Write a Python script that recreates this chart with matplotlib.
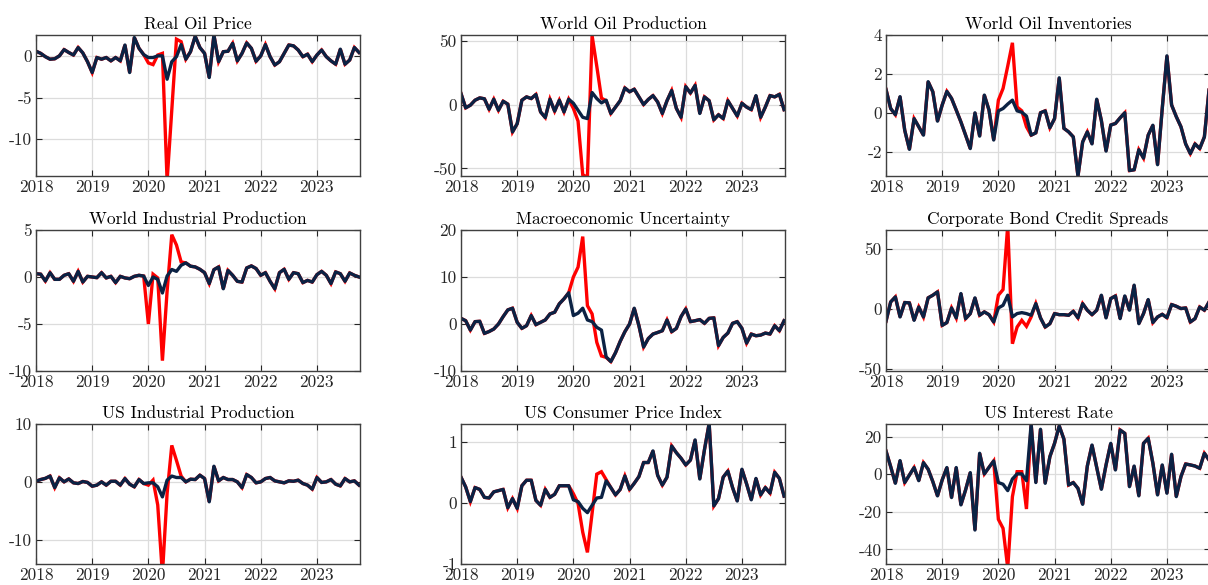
import matplotlib
matplotlib.use("Agg")
import matplotlib.pyplot as plt
import numpy as np

plt.rcParams['font.family'] = 'cmr10'
plt.rcParams['axes.unicode_minus'] = False
plt.rcParams['font.size'] = 12.5

# monthly, 2018-01 .. 2023-10
n_months = 70
start_year = 2018

titles = ["Real Oil Price", "World Oil Production", "World Oil Inventories",
          "World Industrial Production", "Macroeconomic Uncertainty", "Corporate Bond Credit Spreads",
          "US Industrial Production", "US Consumer Price Index", "US Interest Rate"]

# adjusted series (dark line)
oil_price = [0.56, 0.3, -0.1, -0.4, -0.35, 0, 0.75, 0.4, 0.1, 1.0, 0.35, -0.7,
             -2.0, -0.2, -0.4, -0.2, -0.6, -0.2, -0.6, 1.3, -2.0, 2.2, 0.9, 0.15,
             -0.2, -0.2, 0, 0, -2.8, -0.7, -0.1, 1.35, -0.4, 0.5, 2.35, 1.0,
             0.3, -2.6, 2.5, -0.7, 0.5, 0.55, 1.5, -0.6, 0.3, 1.55, 0.9, -0.65,
             0, 1.35, -0.1, -1.1, -0.7, 0.3, 1.3, 1.2, 0.7, -0.1, 0.2, -0.7,
             0.1, 0.7, -0.1, -0.6, -1.0, 0.8, -1.0, -0.5, 1.0, 0.4]
oil_prod = [8.6, -2.6, -0.5, 3.4, 5.2, 4.5, -3.7, 4.2, -4.5, 2.6, 0.3, -21.5,
            -15, 3.4, 6.0, 4.7, 7.9, -5.8, -10.2, 4.2, -5.2, 3.4, -5.8, 4.2,
            1, -4.5, -10, -11, 9.4, 4.7, 1.3, 3.4, -7, -2, 3, 13,
            10, 12, 6, 0, 4, 7, 2, -7, 3, 11, -3, -10,
            14, 9, 15, -7, 6, 3, -12, -8, -11, 3, -3, -9,
            1, -2, -4, 7, -10, -2, 7, 6, 8, -4]
oil_inv = [1.2, 0.22, -0.1, 0.83, -0.9, -1.88, -0.3, -0.72, -1.15, 1.6, 1.08, -0.43,
           0.4, 1.1, 0.74, 0.14, -0.47, -1.15, -1.84, 0, -1.2, 0.91, 0.14, -1.4,
           0.1, 0.22, 0.45, 0.65, 0.1, 0.03, -0.17, -1.15, -1.03, 0.0, 0.1, -0.77,
           -0.3, 1.8, -0.8, -0.98, -1.24, -3.26, -1.5, -0.98, -1.6, 0.7, -0.4, -1.97,
           -0.63, -0.55, -0.26, 0, -2.97, -2.93, -1.9, -2.33, -1.15, -0.64, -2.67, 0.22,
           2.93, 0.4, -0.2, -0.72, -1.6, -2.1, -1.6, -1.84, -1.24, 1.2]
world_ip = [0.35, 0.3, -0.43, 0.46, -0.25, -0.25, 0.18, 0.35, -0.46, 0.6, -0.54, 0.07,
            0, -0.07, 0.46, -0.1, 0.07, -0.6, 0.07, -0.1, -0.18, 0.07, 0.18, 0.1,
            -0.9, 0, -0.25, -1.7, 0.1, 0.8, 0.6, 1.25, 1.5, 1.15, 1.07, 0.82,
            0.46, -0.7, 0.78, 1.07, -1.25, 0.7, 0.18, -0.46, -0.54, 0.96, 1.18, 0.9,
            0.18, 0.46, -0.46, -1.25, 0.46, 0.82, -0.25, 0.46, 0.35, -0.6, -0.36, -0.54,
            0.25, 0.6, 0.18, -0.7, 0.54, 0.35, -0.46, 0.43, 0.18, 0]
uncert = [1.2, 0.7, -1.3, 0.5, 0.57, -2.0, -1.6, -1.07, 0, 1.57, 3.0, 3.36,
          0.36, -0.93, -0.36, 1.8, -0.14, 0.36, 0.86, 2.14, 2.5, 4.3, 5.36, 6.64,
          1.8, 2.3, 3.36, 0.86, 0.5, -0.7, -1.3, -7.0, -8.0, -6.1, -3.7, -1.64,
          0, 3.36, -0.36, -4.9, -3.1, -2.14, -1.8, -1.43, 0.86, -1.64, -0.93, 1.57,
          3.2, 0.5, 0.7, 0.93, 0.14, 1.2, 1.3, -4.6, -2.86, -1.93, 0.14, 0.5,
          -0.93, -4.07, -2.14, -2.5, -2.36, -1.93, -2.14, -0.36, -1.43, 0.7]
spreads = [-10, 6.1, 10.3, -6.4, 5.6, 5.3, -9.2, 1.9, -6.4, 9.5, 11.7, 14.5,
           -13.4, -11.1, 1.1, -7.2, 13.1, -7.8, -3.6, 9.5, -5.0, -2.2, -4.5, -10.6,
           1.1, 3.3, 11.7, -6.4, -3.6, -2.8, -3.6, -5.0, 4.7, -7.2, -14.8, -12,
           -3.6, -4.5, -4.5, -5.0, -1.7, -7.2, 4.7, -0.8, -4.5, -0.8, 11.7, -7.2,
           8.9, 11.1, -7.8, 11.1, -0.8, 20.1, -12, -3.6, 8.1, -11.1, -6.4, -4.2,
           -7.0, 3.9, 2.5, 0.6, 1.1, -10.6, -7.8, 1.9, -0.8, 6.1]
us_ip = [0.1, 0.4, 0.6, 1.0, -1.0, 0.7, 0, 0.5, -0.17, -0.29, 0.06, -0.1,
         -0.75, -0.57, 0, -0.57, 0.1, 0.1, -0.57, 0.57, -0.4, -0.86, 0.4, -0.29,
         -0.17, -0.17, -0.86, -2.6, 0.29, 1.0, 0.75, 0.75, 0, 0.46, 0.4, 1.15,
         0.57, -3.45, 2.7, 0.17, 0.75, 0.4, 0.4, 0, -1.0, 1.26, 0.75, -0.17,
         0, 0.57, 0.75, 0.17, 0, -0.17, 0.17, 0.1, 0.29, -0.29, -0.57, -1.26,
         0.75, -0.1, 0, 0.4, -0.4, -0.7, 0.57, 0, 0.17, -0.57]
us_cpi = [0.42, 0.26, 0.02, 0.25, 0.22, 0.09, 0.08, 0.18, 0.2, 0.22, -0.08, 0.07,
          -0.09, 0.28, 0.37, 0.37, 0.04, -0.04, 0.22, 0.09, 0.14, 0.28, 0.28, 0.28,
          0.05, 0.02, -0.09, -0.16, -0.04, 0.08, 0.09, 0.36, 0.25, 0.13, 0.22, 0.44,
          0.22, 0.32, 0.43, 0.66, 0.66, 0.85, 0.45, 0.29, 0.42, 0.93, 0.82, 0.73,
          0.62, 0.7, 1.03, 0.39, 0.87, 1.3, -0.05, 0.07, 0.42, 0.52, 0.25, 0.03,
          0.55, 0.31, 0.05, 0.4, 0.13, 0.25, 0.16, 0.5, 0.4, 0.11]
us_rate = [12.4, 4.1, -4.8, 7.3, -4.4, -0.4, 3.6, -3.4, 6.2, 2.7, -3.9, -11.5,
           -3.0, 3.6, -12.4, 3.6, -16.3, -8.3, 0.9, -29.7, 11.2, 0.2, 3.7, 7.1,
           -4.4, -5.3, -8.7, -2.5, 0.2, 0.2, -3.4, 26.8, -4.4, 24, -4.8, 9.4,
           16.5, 25.8, 18.7, -5.7, -4.4, -7.5, -16, 4.4, 15.6, 3.7, -8, 5,
           16.5, 2.3, 23.6, 21.8, -6.6, 4.4, -11.5, 16.5, 19.2, 5.9, -11, 5,
           -10.1, 10.7, -11.9, -1.2, 5.5, 5, 4.4, 3.2, 11.2, 7.6]

# original series (red) differ only Jan-Aug 2020
covid_start = 24
oil_price_raw = [-0.85, -1.05, 0.1, 0.3, -15, -6.5, 2.0, 1.7]
oil_prod_raw = [-3, -13, -55, -57, 54, 30, 5, 3]
oil_inv_raw = [0.65, 1.25, 2.4, 3.6, 0.3, 0.1, -0.72, -1.15]
world_ip_raw = [-5.0, 0.3, -0.1, -8.9, -1.5, 4.5, 3.4, 1.6]
uncert_raw = [10, 12.1, 18.6, 3.9, 2.14, -3.9, -6.8, -7.1]
spreads_raw = [11.7, 16.4, 70, -28.7, -14.8, -9.2, -14.2, -6.4]
us_ip_raw = [-0.57, 0.3, -4.0, -16, -2, 6.3, 3.7, 1.0]
us_cpi_raw = [0.15, -0.01, -0.48, -0.81, -0.17, 0.47, 0.51, 0.38]
us_rate_raw = [-24, -28.8, -50, -11.9, 1.4, 1.4, -18.5, 26.8]

adjusted = [oil_price, oil_prod, oil_inv, world_ip, uncert, spreads, us_ip, us_cpi, us_rate]
raw_2020 = [oil_price_raw, oil_prod_raw, oil_inv_raw, world_ip_raw, uncert_raw,
            spreads_raw, us_ip_raw, us_cpi_raw, us_rate_raw]

ylims = [(-14.4, 2.5), (-56, 54.5), (-3.25, 4), (-10, 5), (-10, 20),
         (-51.4, 66), (-14.2, 10), (-1, 1.29), (-47.8, 26.8)]
yticks = [[-10, -5, 0], [-50, 0, 50], [-2, 0, 2, 4], [-10, -5, 0, 5], [-10, 0, 10, 20],
          [-50, 0, 50], [-10, 0, 10], [-1, 0, 1], [-40, -20, 0, 20]]

t = start_year + np.arange(n_months) / 12.0

fig = plt.figure(figsize=(12.08, 5.85), dpi=100)
W, H = 1208, 585
lefts = [36, 461, 886]
tops = [35, 230, 424]
bottoms = [176, 371, 564]
navy = '#0b2244'

for k in range(9):
    r, c = divmod(k, 3)
    ax = fig.add_axes([lefts[c] / W, 1 - bottoms[r] / H, 324 / W, (bottoms[r] - tops[r]) / H])
    adj = np.array(adjusted[k], dtype=float)
    raw = adj.copy()
    raw[covid_start:covid_start + len(raw_2020[k])] = raw_2020[k]
    ax.plot(t, raw, color='red', lw=2.4, solid_joinstyle='miter')
    ax.plot(t, adj, color=navy, lw=2.4)
    ax.set_xlim(2018, 2023 + 9.2 / 12)
    ax.set_ylim(*ylims[k])
    ax.set_xticks(range(2018, 2024))
    ax.set_yticks(yticks[k])
    ax.grid(True, color='#dcdcdc', lw=0.9)
    ax.set_axisbelow(True)
    ax.tick_params(direction='in', length=4, top=True, right=True, colors='#262626',
                   labelsize=12.5, pad=3)
    for s in ax.spines.values():
        s.set_color('#404040')
        s.set_linewidth(1.0)
    ax.set_title(titles[k], fontsize=12.5, pad=4)

plt.savefig('out.png', dpi=100)
